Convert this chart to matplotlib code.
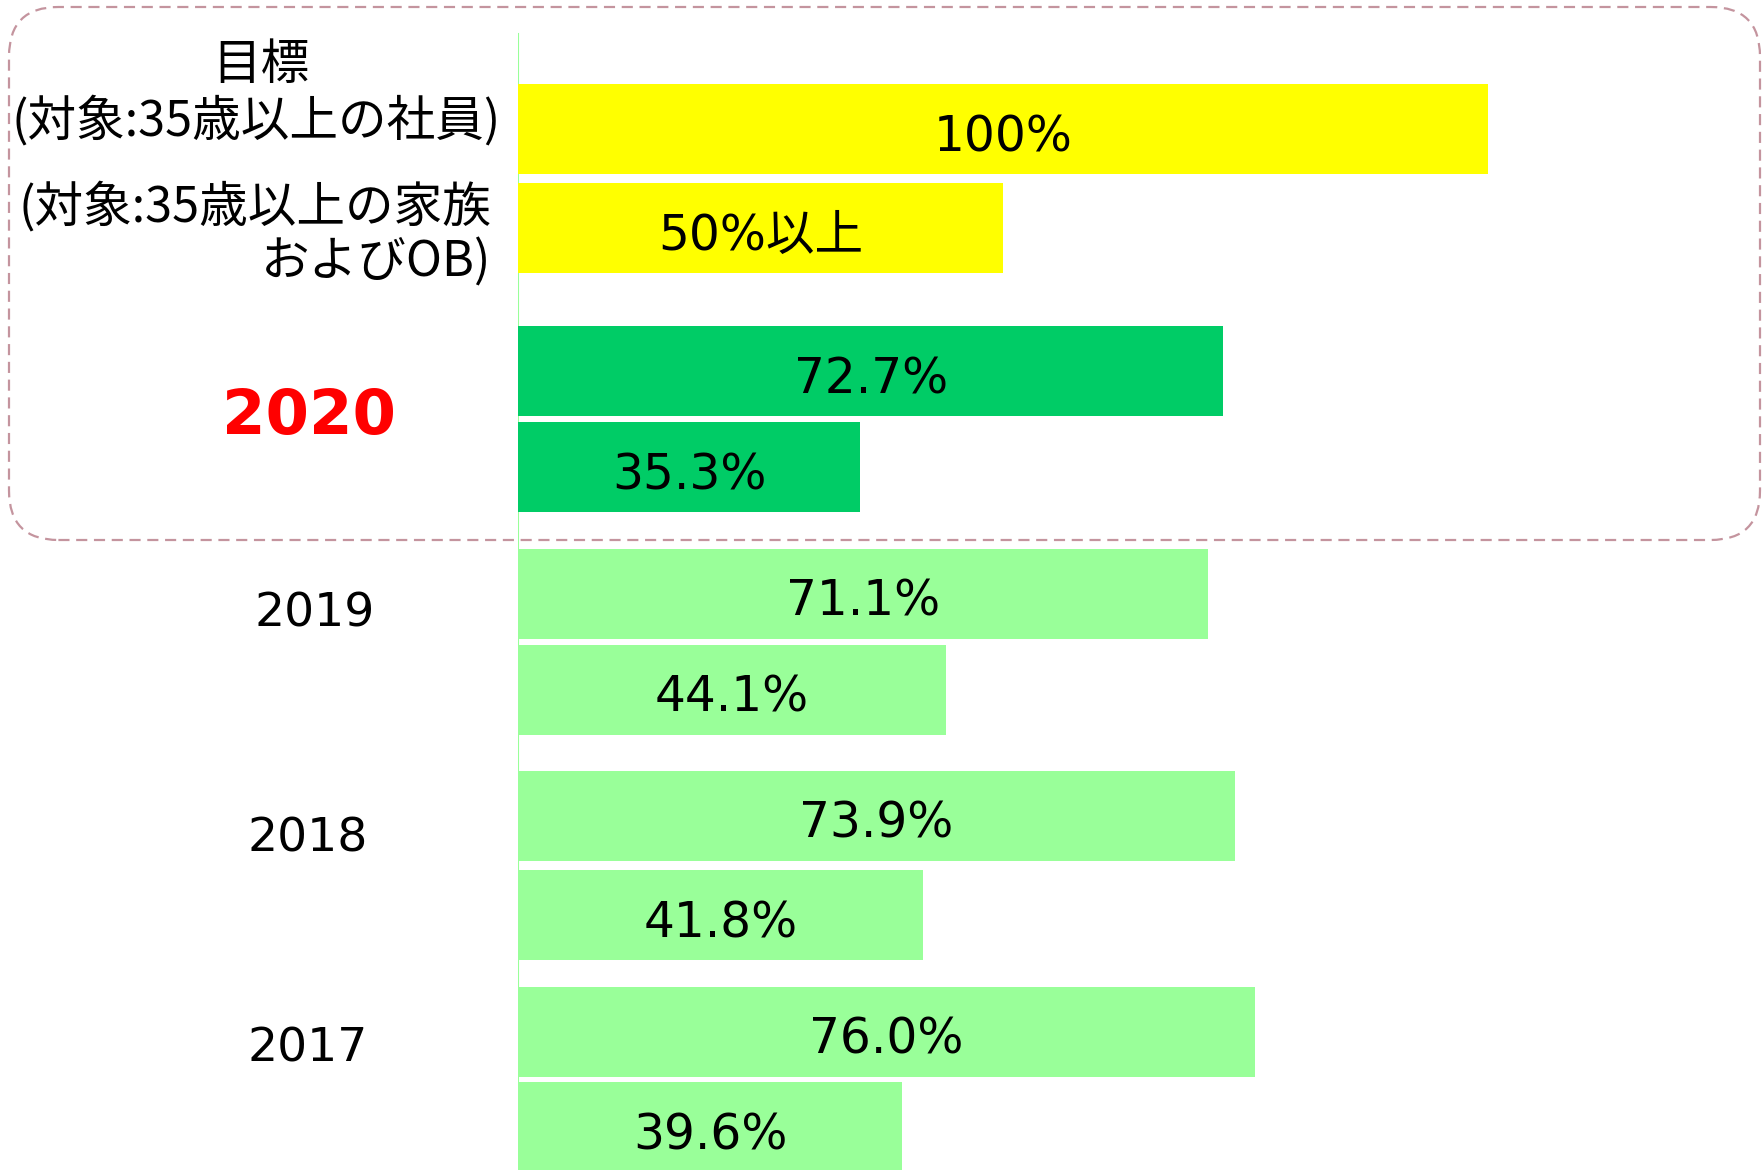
import matplotlib
matplotlib.use("Agg")
import matplotlib.pyplot as plt
from matplotlib.patches import FancyBboxPatch

W, H = 1764, 1170

# data
bar_values = [100, 50, 72.7, 35.3, 71.1, 44.1, 73.9, 41.8, 76.0, 39.6]
bar_labels = ["100%", "50%以上", "72.7%", "35.3%", "71.1%", "44.1%",
              "73.9%", "41.8%", "76.0%", "39.6%"]
year_labels = ["2020", "2019", "2018", "2017"]
target_title = "目標"
target_label_1 = "(対象:35歳以上の社員)"
target_label_2a = "(対象:35歳以上の家族"
target_label_2b = "およびOB)"

# layout (pixel centres of bars, top-down)
bar_centers = [129, 228, 371, 467, 594, 690, 816, 915, 1032, 1127]
bar_height = 90
bar_colors = ["#FFFF00", "#FFFF00", "#00CC66", "#00CC66"] + ["#99FF99"] * 6
year_pos = [(309, 417), (315, 614), (308, 839), (308, 1049)]

PX_PER_UNIT = 9.7
X0 = 518

FONTS = ["DejaVu Sans", "Noto Sans CJK JP"]
JP = ["Noto Sans CJK JP", "DejaVu Sans"]

fig = plt.figure(figsize=(W / 100, H / 100), dpi=100)
ax = fig.add_axes([X0 / W, 0, (W - X0) / W, 1])
ax.set_xlim(0, (W - X0) / PX_PER_UNIT)
ax.set_ylim(H, 0)
ax.axis("off")

ax.barh(bar_centers, bar_values, height=bar_height, color=bar_colors, zorder=2)
for yc, v, lab in zip(bar_centers, bar_values, bar_labels):
    ax.text(v / 2, yc + 8, lab, ha="center", va="center", fontsize=35,
            family=FONTS, zorder=3)

# thin axis line
ax.plot([0, 0], [34, H], color="#99FF99", lw=1.5, zorder=1)

def fx(x):
    return x / W

def fy(y):
    return 1 - y / H

# left labels
fig.text(fx(261), fy(65), target_title, ha="center", va="center",
         fontsize=35, family=JP)
fig.text(fx(12), fy(121), target_label_1, ha="left", va="center",
         fontsize=35, family=JP)
fig.text(fx(491), fy(207), target_label_2a, ha="right", va="center",
         fontsize=35, family=JP)
fig.text(fx(491), fy(263), target_label_2b, ha="right", va="center",
         fontsize=35, family=JP)

for i, (lab, (x, y)) in enumerate(zip(year_labels, year_pos)):
    if i == 0:
        fig.text(fx(x), fy(y), lab, ha="center", va="center", fontsize=45,
                 fontweight="bold", color="#FF0000", family="DejaVu Sans")
    else:
        fig.text(fx(x), fy(y), lab, ha="center", va="center", fontsize=34,
                 family="DejaVu Sans")

# dashed rounded box around target + 2020
box = FancyBboxPatch((fx(9), fy(540)), fx(1760 - 9), (540 - 7) / H,
                     boxstyle="round,pad=0,rounding_size=0.028",
                     transform=fig.transFigure, fill=False,
                     edgecolor="#C4949E", lw=1.6, linestyle=(0, (5, 3)),
                     mutation_aspect=W / H)
fig.patches.append(box)

fig.savefig("out.png", dpi=100)
